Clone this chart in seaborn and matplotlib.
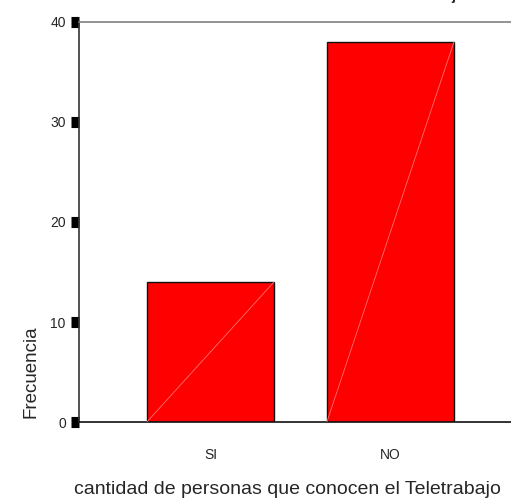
import matplotlib
matplotlib.use("Agg")
import matplotlib.pyplot as plt
import seaborn as sns
import pandas as pd

categories = ["SI", "NO"]
frecuencia = [14, 38]
y_ticks = [0, 10, 20, 30, 40]
x_label = "cantidad de personas que conocen el Teletrabajo"
y_label = "Frecuencia"
title = "Teletrabajo"

df = pd.DataFrame({"cat": categories, "freq": frecuencia})

sns.set_style("white")
plt.rcParams["font.family"] = ["Liberation Sans", "DejaVu Sans"]

W, H = 511, 500
fig = plt.figure(figsize=(W / 100, H / 100), dpi=100)
left, right, top, bottom = 79, 521.8, 22, 422
ax = fig.add_axes([left / W, 1 - bottom / H, (right - left) / W, (bottom - top) / H])

bar_w = 0.706
sns.barplot(data=df, x="cat", y="freq", order=categories, color="#ff0000",
            saturation=1, width=bar_w, edgecolor="#111111", linewidth=1.0, ax=ax)

# faint diagonal inside each bar (SPSS rendering artifact)
for i, v in enumerate(frecuencia):
    ax.plot([i - bar_w / 2, i + bar_w / 2], [0, v], color="#ff7070", lw=0.6, zorder=5)

ax.set_xlim(-0.73, 1.73)
ax.set_ylim(0, 40)
ax.set_yticks(y_ticks)
ax.set_yticklabels([str(t) for t in y_ticks], fontsize=10)
ax.set_xticklabels(categories, fontsize=10)
ax.tick_params(axis="y", left=True, length=5.5, width=8, color="black", pad=4,
               direction="out")
ax.tick_params(axis="x", bottom=False, length=0, pad=19)
ax.set_xlabel("")
ax.set_ylabel("")

ax.spines["left"].set_color("#333333")
ax.spines["left"].set_linewidth(1.2)
ax.spines["top"].set_color("#808080")
ax.spines["top"].set_linewidth(1.2)
ax.spines["bottom"].set_color("#111111")
ax.spines["bottom"].set_linewidth(1.2)
ax.spines["right"].set_visible(False)

fig.text(287 / W, 1 - 494 / H, x_label, ha="center", va="baseline", fontsize=14)
fig.text(31 / W, 1 - 372 / H, y_label, ha="center", va="center", rotation=90, fontsize=13.5)
fig.text(466 / W, 1 + 0.5 / H, title, ha="right", va="baseline", fontsize=10.5,
         fontweight="bold")

fig.savefig("out.png", dpi=100)
